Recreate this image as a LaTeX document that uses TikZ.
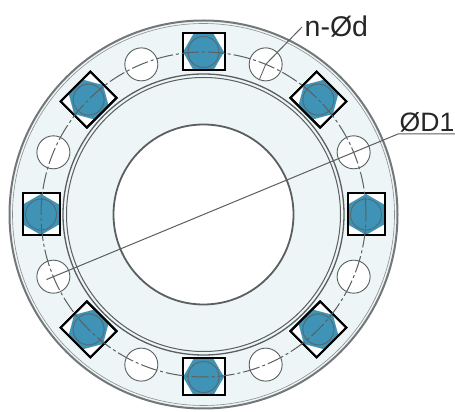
\documentclass[tikz,border=0pt]{standalone}
\usepackage{fontspec}
\setmainfont{Liberation Sans}
\definecolor{pale}{HTML}{EDF5F7}
\definecolor{boltblue}{HTML}{3F93B6}
\definecolor{edge}{HTML}{5A5F60}
\tikzset{
  ringline/.style={draw=edge,line width=1.3pt},
  holeshape/.style={draw=edge,fill=white,line width=0.9pt},
  squareshape/.style={draw=black,fill=white,line width=2pt},
  hexshape/.style={fill=boltblue},
  headshape/.style={draw=edge!75!boltblue,line width=1pt},
  centreline/.style={draw=edge,line width=1pt,dash pattern=on 17pt off 3pt on 3pt off 3pt},
  leader/.style={draw=edge,line width=1pt},
  labeltext/.style={inner sep=0pt,text=black!85,font=\fontsize{28.5}{29}\selectfont}
}
\begin{document}
\begin{tikzpicture}[x=1pt,y=1pt]
\useasboundingbox (0,0) rectangle (455,412);
\begin{scope}[shift={(203.5,197.5)}]
  % flange
  \fill[pale] (0,0) circle (194);
  \draw[draw=edge!85,line width=2pt] (0,0) circle (194);
  \draw[draw=edge!70,line width=0.6pt] (0,0) circle (191);
  % raised face
  \draw[ringline] (0,0) circle (140.5);
  \draw[draw=edge,line width=1pt] (0,0) circle (137);
  % bore
  \draw[draw=edge,fill=white,line width=1.8pt] (0,0) circle (90);
  % holes
  \foreach \a in {22.5,67.5,112.5,157.5,202.5,247.5,292.5,337.5}
    \draw[holeshape] (\a:162.5) circle (16.5);
  % bolts
  \foreach \a in {0,45,...,315}{
    \begin{scope}[rotate=\a,shift={(162.5,0)}]
      \draw[squareshape] (-18.5,-21) rectangle (18.5,21);
      \fill[hexshape] (0,-20.5) -- (17.8,-10.2) -- (17.8,10.2) -- (0,20.5) -- (-17.8,10.2) -- (-17.8,-10.2) -- cycle;
      \draw[headshape] (0,0) circle (15.5);
      \draw[squareshape,fill=none] (-18.5,-21) rectangle (18.5,21);
    \end{scope}
  }
  % pitch circle
  \draw[centreline] (0,0) circle (162.5);
  % named leader points
  \coordinate (dstart) at (202.5:170);
  \coordinate (hole) at (67.5:162.5);
  \coordinate (tick) at (67.5:146);
\end{scope}
\coordinate (dknee) at (398,278);
\coordinate (dend) at (455,278);
\coordinate (nend) at (302,385);
\node[labeltext,anchor=base west] (nlabel) at (304.5,375) {n-Ød};
\node[labeltext,anchor=base west,font=\fontsize{26.6}{28}\selectfont] (dlabel) at (399.5,280) {ØD1};
\draw[leader] (dstart) -- (dknee) -- (dend);
\draw[leader] (nend) -- (hole);
\draw[leader,line width=0.8pt] (hole) -- (tick);
\end{tikzpicture}
\end{document}
